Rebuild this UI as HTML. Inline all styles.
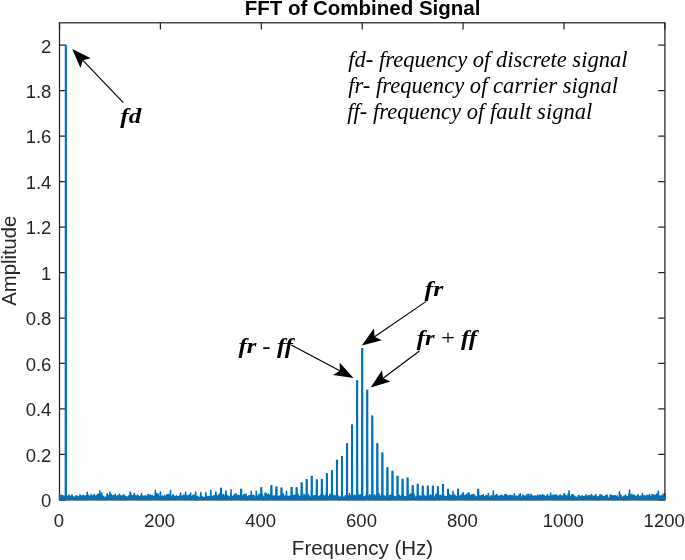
<!DOCTYPE html>
<html><head><meta charset="utf-8"><title>FFT of Combined Signal</title>
<style>
html,body{margin:0;padding:0;background:#fff;}
body{width:685px;height:560px;overflow:hidden;}
svg{display:block;}
.t{font-family:"Liberation Sans",Arial,Helvetica,sans-serif;fill:#262626;}
.s{font-family:"Liberation Serif","Times New Roman",Times,serif;fill:#000;}
</style></head><body>
<svg width="685" height="560" viewBox="0 0 685 560">
<rect width="685" height="560" fill="#fff"/>
<g stroke="#262626" stroke-width="1.25" fill="none">
<rect x="59.5" y="22.8" width="605.4" height="477.07"/>
<path d="M59.50 499.87v-6.6M59.50 22.8v6.6"/>
<path d="M160.40 499.87v-6.6M160.40 22.8v6.6"/>
<path d="M261.30 499.87v-6.6M261.30 22.8v6.6"/>
<path d="M362.20 499.87v-6.6M362.20 22.8v6.6"/>
<path d="M463.10 499.87v-6.6M463.10 22.8v6.6"/>
<path d="M564.00 499.87v-6.6M564.00 22.8v6.6"/>
<path d="M664.90 499.87v-6.6M664.90 22.8v6.6"/>
<path d="M59.5 499.87h6.6M664.9 499.87h-6.6"/>
<path d="M59.5 454.40h6.6M664.9 454.40h-6.6"/>
<path d="M59.5 408.94h6.6M664.9 408.94h-6.6"/>
<path d="M59.5 363.47h6.6M664.9 363.47h-6.6"/>
<path d="M59.5 318.00h6.6M664.9 318.00h-6.6"/>
<path d="M59.5 272.53h6.6M664.9 272.53h-6.6"/>
<path d="M59.5 227.07h6.6M664.9 227.07h-6.6"/>
<path d="M59.5 181.60h6.6M664.9 181.60h-6.6"/>
<path d="M59.5 136.13h6.6M664.9 136.13h-6.6"/>
<path d="M59.5 90.67h6.6M664.9 90.67h-6.6"/>
<path d="M59.5 45.20h6.6M664.9 45.20h-6.6"/>
</g>
<polyline fill="none" stroke="#0072BD" stroke-width="1.5" stroke-linejoin="round" points="59.50,493.05 59.75,496.22 60.00,499.24 60.26,495.80 60.51,498.80 60.76,495.75 61.01,498.93 61.27,495.59 61.52,499.11 61.77,495.55 62.02,499.16 62.27,495.67 62.53,499.10 62.78,495.60 63.03,499.37 63.28,496.11 63.54,498.75 63.79,496.86 64.04,499.46 64.29,496.48 64.55,499.09 64.80,497.29 65.05,498.83 65.30,495.89 65.55,498.98 65.81,45.20 66.06,499.31 66.31,495.37 66.56,499.42 66.82,497.80 67.07,499.26 67.32,497.84 67.57,499.00 67.82,496.25 68.08,499.34 68.33,496.49 68.58,499.60 68.83,495.17 69.09,499.64 69.34,495.27 69.59,498.76 69.84,497.45 70.09,499.27 70.35,496.45 70.60,498.74 70.85,496.49 71.10,499.37 71.36,496.59 71.61,498.92 71.86,495.05 72.11,499.22 72.36,495.82 72.62,499.37 72.87,496.48 73.12,499.18 73.37,496.97 73.63,498.92 73.88,498.07 74.13,499.53 74.38,497.26 74.63,499.08 74.89,497.26 75.14,499.36 75.39,498.38 75.64,499.62 75.90,495.83 76.15,499.31 76.40,496.92 76.65,499.20 76.91,496.10 77.16,499.52 77.41,496.20 77.66,499.42 77.91,497.33 78.17,499.42 78.42,496.83 78.67,499.47 78.92,497.24 79.18,498.83 79.43,498.26 79.68,498.92 79.93,494.79 80.18,498.87 80.44,497.08 80.69,499.39 80.94,495.79 81.19,498.78 81.45,496.69 81.70,498.97 81.95,496.96 82.20,499.49 82.45,497.46 82.71,499.24 82.96,495.36 83.21,498.86 83.46,495.79 83.72,498.75 83.97,496.72 84.22,499.59 84.47,496.02 84.72,499.33 84.98,498.51 85.23,499.62 85.48,497.12 85.73,499.39 85.99,495.71 86.24,499.63 86.49,495.79 86.74,498.89 87.00,498.51 87.25,492.14 87.50,496.69 87.75,498.87 88.00,494.90 88.26,498.76 88.51,496.42 88.76,499.01 89.01,495.65 89.27,498.74 89.52,497.02 89.77,498.97 90.02,496.86 90.27,499.03 90.53,497.78 90.78,499.33 91.03,494.59 91.28,499.27 91.54,496.34 91.79,499.06 92.04,498.51 92.29,499.01 92.54,498.17 92.80,499.26 93.05,495.33 93.30,499.30 93.55,496.28 93.81,499.50 94.06,497.89 94.31,494.53 94.56,498.51 94.81,499.09 95.07,497.47 95.32,499.06 95.57,497.29 95.82,499.32 96.08,495.87 96.33,499.22 96.58,498.21 96.83,499.37 97.09,495.07 97.34,499.37 97.59,495.92 97.84,499.59 98.09,493.93 98.35,498.76 98.60,495.31 98.85,499.24 99.10,495.54 99.36,499.27 99.61,496.18 99.86,490.78 100.11,495.51 100.36,498.76 100.62,495.23 100.87,499.58 101.12,496.53 101.37,499.51 101.63,493.12 101.88,499.29 102.13,496.08 102.38,498.88 102.63,495.89 102.89,499.60 103.14,496.41 103.39,499.48 103.64,497.00 103.90,499.08 104.15,497.07 104.40,499.36 104.65,498.29 104.91,499.58 105.16,498.08 105.41,498.92 105.66,498.51 105.91,499.02 106.17,496.76 106.42,499.59 106.67,495.74 106.92,498.91 107.18,493.86 107.43,498.75 107.68,494.83 107.93,498.98 108.18,496.48 108.44,499.04 108.69,496.12 108.94,498.77 109.19,496.19 109.45,498.98 109.70,497.08 109.95,492.14 110.20,494.53 110.45,498.79 110.71,494.79 110.96,498.81 111.21,496.73 111.46,494.86 111.72,496.00 111.97,498.99 112.22,496.36 112.47,498.88 112.72,496.03 112.98,499.02 113.23,496.66 113.48,499.49 113.73,495.61 113.99,498.94 114.24,496.54 114.49,498.83 114.74,497.24 115.00,499.57 115.25,494.26 115.50,498.93 115.75,496.82 116.00,498.86 116.26,497.49 116.51,499.44 116.76,498.46 117.01,499.45 117.27,495.87 117.52,498.74 117.77,496.08 118.02,499.33 118.27,496.57 118.53,499.13 118.78,497.17 119.03,499.58 119.28,494.29 119.54,499.47 119.79,495.71 120.04,499.30 120.29,497.15 120.54,498.80 120.80,495.58 121.05,498.80 121.30,498.51 121.55,499.36 121.81,496.53 122.06,499.32 122.31,496.25 122.56,499.28 122.81,496.76 123.07,499.33 123.32,495.03 123.57,498.80 123.82,494.76 124.08,499.62 124.33,496.02 124.58,499.07 124.83,496.18 125.08,499.34 125.34,496.75 125.59,499.57 125.84,496.36 126.09,499.58 126.35,498.09 126.60,499.21 126.85,496.88 127.10,498.87 127.36,497.62 127.61,499.48 127.86,497.57 128.11,499.25 128.36,496.80 128.62,499.47 128.87,495.64 129.12,498.81 129.37,497.84 129.63,499.12 129.88,496.47 130.13,491.91 130.38,494.95 130.63,499.29 130.89,494.07 131.14,499.35 131.39,497.08 131.64,498.74 131.90,496.23 132.15,499.23 132.40,496.72 132.65,498.90 132.90,495.79 133.16,499.48 133.41,495.56 133.66,498.84 133.91,495.92 134.17,499.23 134.42,493.38 134.67,499.21 134.92,495.52 135.18,499.40 135.43,496.61 135.68,499.29 135.93,496.00 136.18,498.78 136.44,496.27 136.69,499.24 136.94,495.89 137.19,498.76 137.45,495.03 137.70,499.07 137.95,495.21 138.20,498.75 138.45,496.54 138.71,499.19 138.96,496.71 139.21,498.76 139.46,497.88 139.72,499.28 139.97,496.48 140.22,498.74 140.47,496.03 140.72,499.55 140.98,496.27 141.23,499.33 141.48,493.42 141.73,499.43 141.99,495.51 142.24,499.43 142.49,495.91 142.74,498.91 142.99,496.52 143.25,499.25 143.50,496.37 143.75,499.39 144.00,497.70 144.26,499.38 144.51,496.48 144.76,499.18 145.01,495.81 145.26,498.97 145.52,496.07 145.77,499.41 146.02,496.31 146.27,498.83 146.53,496.67 146.78,499.55 147.03,496.67 147.28,499.25 147.54,495.68 147.79,499.33 148.04,494.62 148.29,499.53 148.54,495.46 148.80,498.97 149.05,494.70 149.30,499.36 149.55,496.20 149.81,498.99 150.06,495.56 150.31,498.93 150.56,495.13 150.81,499.16 151.07,495.79 151.32,499.24 151.57,496.59 151.82,499.22 152.08,495.34 152.33,498.91 152.58,496.88 152.83,499.15 153.08,497.18 153.34,499.07 153.59,496.21 153.84,498.75 154.09,496.37 154.35,499.19 154.60,496.16 154.85,498.75 155.10,496.98 155.35,490.32 155.61,496.66 155.86,499.06 156.11,494.79 156.36,498.81 156.62,493.47 156.87,499.30 157.12,495.65 157.37,499.13 157.63,495.95 157.88,499.24 158.13,493.89 158.38,498.88 158.63,496.59 158.89,498.82 159.14,496.95 159.39,499.19 159.64,497.18 159.90,499.63 160.15,497.34 160.40,491.91 160.65,496.97 160.90,498.94 161.16,495.98 161.41,498.96 161.66,496.61 161.91,499.62 162.17,496.75 162.42,498.87 162.67,496.11 162.92,499.35 163.17,496.88 163.43,498.84 163.68,497.10 163.93,499.41 164.18,498.51 164.44,499.55 164.69,495.36 164.94,498.88 165.19,496.96 165.44,499.18 165.70,497.08 165.95,499.58 166.20,496.21 166.45,499.31 166.71,495.10 166.96,499.01 167.21,494.61 167.46,499.42 167.72,495.07 167.97,499.44 168.22,496.38 168.47,499.39 168.72,494.48 168.98,499.59 169.23,495.73 169.48,498.83 169.73,497.24 169.99,499.11 170.24,497.62 170.49,490.32 170.74,496.53 170.99,499.21 171.25,497.18 171.50,498.97 171.75,496.96 172.00,499.01 172.26,496.67 172.51,498.93 172.76,495.09 173.01,499.02 173.26,494.98 173.52,498.77 173.77,496.71 174.02,498.85 174.27,496.22 174.53,498.96 174.78,497.56 175.03,499.22 175.28,496.84 175.53,499.58 175.79,496.95 176.04,498.74 176.29,495.84 176.54,499.29 176.80,497.99 177.05,499.09 177.30,496.44 177.55,498.90 177.81,496.98 178.06,499.09 178.31,496.66 178.56,499.46 178.81,496.84 179.07,499.35 179.32,496.40 179.57,498.80 179.82,495.62 180.08,498.91 180.33,496.21 180.58,493.05 180.83,497.33 181.08,498.81 181.34,496.69 181.59,499.19 181.84,498.03 182.09,499.61 182.35,496.36 182.60,498.83 182.85,495.75 183.10,499.05 183.35,495.23 183.61,499.20 183.86,495.09 184.11,499.18 184.36,496.43 184.62,499.44 184.87,495.34 185.12,499.28 185.37,498.00 185.62,492.37 185.88,497.94 186.13,499.01 186.38,495.69 186.63,499.13 186.89,496.05 187.14,499.31 187.39,496.16 187.64,498.94 187.90,495.68 188.15,499.30 188.40,495.74 188.65,499.31 188.90,496.33 189.16,498.97 189.41,495.09 189.66,499.13 189.91,495.62 190.17,498.91 190.42,496.99 190.67,493.05 190.92,497.14 191.17,499.49 191.43,496.62 191.68,499.64 191.93,496.93 192.18,499.09 192.44,496.40 192.69,499.41 192.94,495.24 193.19,499.14 193.44,496.59 193.70,498.74 193.95,495.85 194.20,499.36 194.45,495.35 194.71,498.93 194.96,497.39 195.21,499.54 195.46,497.27 195.71,491.91 195.97,498.47 196.22,499.47 196.47,497.10 196.72,498.76 196.98,496.82 197.23,499.63 197.48,496.17 197.73,499.48 197.99,497.48 198.24,499.14 198.49,497.28 198.74,498.77 198.99,498.51 199.25,499.61 199.50,498.51 199.75,499.34 200.00,497.24 200.26,499.26 200.51,495.98 200.76,492.60 201.01,497.38 201.26,499.24 201.52,496.79 201.77,498.84 202.02,496.45 202.27,498.84 202.53,496.95 202.78,499.62 203.03,498.51 203.28,499.46 203.53,497.59 203.79,499.11 204.04,498.25 204.29,498.91 204.54,498.29 204.80,499.27 205.05,497.03 205.30,499.22 205.55,497.04 205.80,492.60 206.06,496.15 206.31,499.07 206.56,495.94 206.81,498.94 207.07,497.67 207.32,499.47 207.57,497.39 207.82,498.83 208.08,496.84 208.33,499.12 208.58,496.56 208.83,499.59 209.08,496.44 209.34,498.78 209.59,496.69 209.84,499.35 210.09,497.49 210.35,498.83 210.60,497.65 210.85,490.32 211.10,496.32 211.35,499.24 211.61,496.28 211.86,499.36 212.11,498.14 212.36,498.80 212.62,497.05 212.87,498.98 213.12,496.54 213.37,498.99 213.62,495.65 213.88,499.42 214.13,496.29 214.38,499.45 214.63,496.81 214.89,498.96 215.14,495.47 215.39,499.10 215.64,494.83 215.89,491.91 216.15,495.90 216.40,498.86 216.65,495.10 216.90,499.58 217.16,497.48 217.41,499.23 217.66,497.14 217.91,499.55 218.17,496.06 218.42,498.85 218.67,496.09 218.92,499.25 219.17,494.12 219.43,499.13 219.68,496.18 219.93,498.99 220.18,494.88 220.44,499.59 220.69,495.43 220.94,488.50 221.19,497.24 221.44,499.60 221.70,496.04 221.95,498.85 222.20,496.35 222.45,499.62 222.71,494.75 222.96,498.94 223.21,495.12 223.46,499.15 223.71,494.52 223.97,499.36 224.22,498.51 224.47,499.19 224.72,497.69 224.98,499.40 225.23,496.23 225.48,498.93 225.73,494.77 225.98,490.78 226.24,495.08 226.49,499.62 226.74,495.13 226.99,499.05 227.25,497.92 227.50,498.83 227.75,496.36 228.00,498.97 228.26,496.14 228.51,499.28 228.76,497.04 229.01,498.78 229.26,497.16 229.52,498.84 229.77,498.07 230.02,499.45 230.27,496.78 230.53,498.82 230.78,496.20 231.03,489.64 231.28,496.67 231.53,499.46 231.79,497.92 232.04,499.43 232.29,496.43 232.54,499.00 232.80,497.41 233.05,499.34 233.30,497.32 233.55,499.12 233.80,495.41 234.06,499.15 234.31,494.47 234.56,499.29 234.81,496.22 235.07,499.03 235.32,495.68 235.57,498.83 235.82,497.88 236.07,493.50 236.33,496.36 236.58,499.17 236.83,496.69 237.08,498.93 237.34,495.53 237.59,499.48 237.84,495.82 238.09,498.88 238.35,495.49 238.60,499.36 238.85,495.15 239.10,498.89 239.35,497.47 239.61,499.42 239.86,496.38 240.11,498.85 240.36,495.68 240.62,498.84 240.87,495.59 241.12,489.41 241.37,497.84 241.62,499.58 241.88,497.93 242.13,498.81 242.38,496.34 242.63,499.12 242.89,496.52 243.14,499.49 243.39,495.09 243.64,498.99 243.89,496.64 244.15,499.31 244.40,494.26 244.65,498.89 244.90,495.60 245.16,498.94 245.41,497.05 245.66,499.36 245.91,495.82 246.16,494.19 246.42,497.43 246.67,499.44 246.92,496.79 247.17,498.93 247.43,497.67 247.68,499.46 247.93,496.70 248.18,498.75 248.44,496.78 248.69,499.30 248.94,495.75 249.19,499.19 249.44,495.87 249.70,499.17 249.95,497.10 250.20,499.45 250.45,496.27 250.71,498.94 250.96,495.13 251.21,491.23 251.46,497.23 251.71,498.89 251.97,495.25 252.22,499.17 252.47,496.44 252.72,498.92 252.98,497.16 253.23,499.60 253.48,495.34 253.73,499.27 253.98,495.60 254.24,499.18 254.49,497.48 254.74,498.93 254.99,497.20 255.25,499.53 255.50,498.11 255.75,499.20 256.00,498.51 256.25,491.23 256.51,494.90 256.76,498.86 257.01,496.11 257.26,499.62 257.52,497.40 257.77,498.89 258.02,497.65 258.27,498.93 258.53,495.76 258.78,499.60 259.03,494.35 259.28,499.51 259.53,495.14 259.79,498.90 260.04,496.40 260.29,499.37 260.54,495.75 260.80,499.21 261.05,496.03 261.30,488.05 261.55,496.91 261.80,499.31 262.06,496.58 262.31,498.78 262.56,494.98 262.81,499.39 263.07,496.40 263.32,499.29 263.57,497.34 263.82,499.63 264.07,498.08 264.33,498.93 264.58,498.22 264.83,499.25 265.08,493.11 265.34,499.59 265.59,495.68 265.84,499.39 266.09,496.47 266.34,493.50 266.60,494.35 266.85,499.55 267.10,494.91 267.35,498.95 267.61,496.71 267.86,499.35 268.11,496.22 268.36,499.52 268.62,493.94 268.87,499.52 269.12,496.43 269.37,499.47 269.62,495.51 269.88,499.06 270.13,496.48 270.38,499.21 270.63,497.06 270.89,499.19 271.14,497.53 271.39,485.78 271.64,496.71 271.89,499.24 272.15,497.17 272.40,499.51 272.65,496.48 272.90,498.74 273.16,496.18 273.41,499.57 273.66,495.82 273.91,498.78 274.16,496.16 274.42,499.16 274.67,496.96 274.92,499.62 275.17,495.97 275.43,498.97 275.68,494.58 275.93,499.32 276.18,495.00 276.43,487.14 276.69,496.93 276.94,499.49 277.19,497.26 277.44,499.39 277.70,497.41 277.95,498.81 278.20,496.53 278.45,499.51 278.71,496.47 278.96,499.55 279.21,496.10 279.46,499.52 279.71,496.48 279.97,499.08 280.22,496.11 280.47,498.80 280.72,495.92 280.98,499.49 281.23,496.26 281.48,488.28 281.73,497.43 281.98,499.24 282.24,496.73 282.49,499.64 282.74,494.83 282.99,499.20 283.25,493.85 283.50,499.08 283.75,496.98 284.00,498.81 284.25,495.95 284.51,498.80 284.76,497.20 285.01,499.08 285.26,496.11 285.52,498.94 285.77,497.32 286.02,498.97 286.27,497.56 286.52,491.23 286.78,496.28 287.03,499.55 287.28,497.02 287.53,499.46 287.79,496.60 288.04,498.85 288.29,496.23 288.54,498.76 288.80,497.52 289.05,499.58 289.30,497.36 289.55,499.08 289.80,496.33 290.06,499.54 290.31,497.81 290.56,499.48 290.81,496.07 291.07,499.42 291.32,495.95 291.57,487.59 291.82,496.28 292.07,499.50 292.33,497.31 292.58,499.43 292.83,495.79 293.08,499.58 293.34,497.11 293.59,499.03 293.84,495.45 294.09,499.52 294.34,495.14 294.60,499.18 294.85,495.53 295.10,498.90 295.35,495.83 295.61,499.36 295.86,496.92 296.11,499.34 296.36,496.68 296.62,488.05 296.87,494.97 297.12,499.39 297.37,495.28 297.62,498.87 297.88,495.74 298.13,499.64 298.38,494.66 298.63,498.84 298.89,496.71 299.14,499.61 299.39,496.48 299.64,499.38 299.89,498.51 300.15,499.27 300.40,497.14 300.65,499.18 300.90,495.91 301.16,499.42 301.41,495.87 301.66,483.12 301.91,494.99 302.16,499.14 302.42,496.69 302.67,499.62 302.92,497.41 303.17,499.15 303.43,497.06 303.68,499.64 303.93,494.19 304.18,499.63 304.43,495.14 304.69,498.94 304.94,496.82 305.19,499.11 305.44,495.81 305.70,499.52 305.95,495.42 306.20,499.42 306.45,496.57 306.70,479.64 306.96,497.03 307.21,498.95 307.46,497.10 307.71,498.79 307.97,495.37 308.22,499.39 308.47,494.83 308.72,499.03 308.98,496.12 309.23,499.41 309.48,496.26 309.73,499.04 309.98,497.49 310.24,498.78 310.49,497.66 310.74,499.01 310.99,497.23 311.25,499.40 311.50,497.22 311.75,476.45 312.00,496.17 312.25,499.48 312.51,496.49 312.76,498.77 313.01,495.75 313.26,499.24 313.52,496.26 313.77,499.26 314.02,496.34 314.27,499.39 314.52,495.85 314.78,499.16 315.03,497.61 315.28,499.19 315.53,495.52 315.79,498.85 316.04,495.60 316.29,498.95 316.54,496.45 316.79,480.09 317.05,495.70 317.30,499.15 317.55,496.69 317.80,498.92 318.06,496.59 318.31,499.05 318.56,496.48 318.81,499.62 319.07,497.06 319.32,499.45 319.57,496.55 319.82,499.32 320.07,495.85 320.33,498.93 320.58,496.92 320.83,498.97 321.08,494.71 321.34,499.48 321.59,495.20 321.84,479.64 322.09,496.30 322.34,498.77 322.60,495.92 322.85,499.24 323.10,496.24 323.35,499.54 323.61,495.29 323.86,499.05 324.11,496.73 324.36,499.51 324.61,498.24 324.87,499.50 325.12,495.89 325.37,498.81 325.62,497.53 325.88,499.57 326.13,494.75 326.38,499.25 326.63,495.17 326.88,473.95 327.14,497.78 327.39,499.42 327.64,497.51 327.89,498.80 328.15,496.76 328.40,499.24 328.65,496.48 328.90,498.93 329.16,495.94 329.41,499.36 329.66,496.50 329.91,494.15 330.16,496.51 330.42,499.34 330.67,496.06 330.92,498.80 331.17,495.42 331.43,499.48 331.68,495.58 331.93,471.00 332.18,496.26 332.43,499.15 332.69,495.83 332.94,499.49 333.19,495.77 333.44,499.52 333.70,495.26 333.95,498.75 334.20,496.09 334.45,498.91 334.70,496.32 334.96,498.77 335.21,496.26 335.46,499.17 335.71,496.52 335.97,499.01 336.22,495.17 336.47,499.26 336.72,495.65 336.97,460.31 337.23,497.48 337.48,499.18 337.73,495.51 337.98,499.56 338.24,496.11 338.49,499.45 338.74,497.67 338.99,499.44 339.25,497.20 339.50,498.97 339.75,497.03 340.00,499.49 340.25,498.51 340.51,499.43 340.76,498.51 341.01,499.17 341.26,496.31 341.52,499.29 341.77,496.42 342.02,456.68 342.27,497.11 342.52,498.90 342.78,496.69 343.03,498.82 343.28,498.44 343.53,499.52 343.79,497.20 344.04,498.99 344.29,497.55 344.54,499.01 344.79,497.40 345.05,498.79 345.30,495.65 345.55,498.94 345.80,496.51 346.06,499.18 346.31,495.69 346.56,498.94 346.81,495.61 347.06,443.83 347.32,496.40 347.57,499.59 347.82,496.57 348.07,498.81 348.33,495.96 348.58,499.61 348.83,497.34 349.08,498.97 349.34,498.44 349.59,493.49 349.84,498.13 350.09,499.05 350.34,498.09 350.60,499.39 350.85,498.01 351.10,498.91 351.35,495.45 351.61,499.31 351.86,495.43 352.11,425.08 352.36,496.70 352.61,499.57 352.87,495.67 353.12,499.41 353.37,495.78 353.62,499.47 353.88,496.16 354.13,498.95 354.38,495.69 354.63,499.42 354.88,495.09 355.14,499.33 355.39,497.83 355.64,499.08 355.89,497.15 356.15,498.92 356.40,496.00 356.65,499.61 356.90,496.69 357.15,380.97 357.41,495.00 357.66,499.57 357.91,494.27 358.16,499.60 358.42,495.94 358.67,499.48 358.92,495.28 359.17,499.35 359.43,496.54 359.68,498.79 359.93,496.20 360.18,499.26 360.43,494.74 360.69,499.45 360.94,495.97 361.19,499.60 361.44,496.62 361.70,499.11 361.95,495.64 362.20,348.69 362.45,496.07 362.70,499.64 362.96,496.40 363.21,499.40 363.46,496.69 363.71,498.98 363.97,496.97 364.22,499.39 364.47,496.93 364.72,499.50 364.97,498.01 365.23,499.34 365.48,496.36 365.73,499.09 365.98,495.48 366.24,498.78 366.49,495.59 366.74,498.93 366.99,495.88 367.24,390.52 367.50,495.46 367.75,499.08 368.00,496.25 368.25,499.47 368.51,497.27 368.76,499.00 369.01,496.78 369.26,499.53 369.52,494.85 369.77,499.59 370.02,494.92 370.27,499.11 370.52,496.13 370.78,498.79 371.03,497.28 371.28,499.44 371.53,497.60 371.79,498.92 372.04,498.05 372.29,416.21 372.54,496.73 372.79,499.24 373.05,496.95 373.30,498.95 373.55,497.86 373.80,498.81 374.06,497.83 374.31,498.97 374.56,494.66 374.81,499.18 375.06,495.86 375.32,499.63 375.57,497.10 375.82,498.92 376.07,496.68 376.33,498.96 376.58,496.38 376.83,499.50 377.08,497.49 377.33,443.83 377.59,496.28 377.84,499.51 378.09,496.99 378.34,499.48 378.60,493.60 378.85,499.08 379.10,494.47 379.35,498.88 379.61,495.70 379.86,499.61 380.11,497.95 380.36,498.88 380.61,497.24 380.87,499.43 381.12,498.14 381.37,499.56 381.62,494.55 381.88,499.24 382.13,497.42 382.38,453.27 382.63,495.60 382.88,499.52 383.14,495.40 383.39,499.58 383.64,497.56 383.89,498.88 384.15,495.64 384.40,498.91 384.65,496.93 384.90,499.14 385.15,497.28 385.41,498.80 385.66,497.08 385.91,498.99 386.16,496.36 386.42,499.04 386.67,495.59 386.92,499.42 387.17,495.66 387.42,467.82 387.68,496.08 387.93,499.47 388.18,497.55 388.43,499.62 388.69,497.94 388.94,499.46 389.19,498.17 389.44,498.99 389.70,495.39 389.95,499.09 390.20,495.46 390.45,499.58 390.70,495.67 390.96,499.08 391.21,495.35 391.46,498.78 391.71,496.99 391.97,499.16 392.22,495.89 392.47,471.45 392.72,496.72 392.97,499.21 393.23,496.99 393.48,499.24 393.73,496.58 393.98,499.31 394.24,496.58 394.49,498.91 394.74,496.45 394.99,499.16 395.24,497.06 395.50,498.79 395.75,498.08 396.00,499.55 396.25,497.07 396.51,499.17 396.76,496.95 397.01,498.82 397.26,496.58 397.51,476.45 397.77,497.20 398.02,499.62 398.27,497.79 398.52,499.09 398.78,495.41 399.03,499.48 399.28,495.18 399.53,499.22 399.79,497.71 400.04,498.80 400.29,497.76 400.54,499.45 400.79,496.29 401.05,499.20 401.30,496.36 401.55,498.89 401.80,496.90 402.06,499.24 402.31,495.81 402.56,479.41 402.81,494.12 403.06,499.27 403.32,495.01 403.57,499.35 403.82,497.78 404.07,499.44 404.33,496.66 404.58,499.35 404.83,498.42 405.08,498.96 405.33,496.80 405.59,498.92 405.84,496.79 406.09,499.56 406.34,497.95 406.60,499.40 406.85,498.04 407.10,499.56 407.35,497.90 407.60,478.14 407.86,496.93 408.11,499.00 408.36,496.35 408.61,499.26 408.87,495.34 409.12,499.52 409.37,497.09 409.62,499.35 409.88,496.63 410.13,499.20 410.38,493.81 410.63,499.34 410.88,494.07 411.14,498.81 411.39,494.78 411.64,499.35 411.89,497.08 412.15,499.25 412.40,496.59 412.65,485.84 412.90,493.89 413.15,499.22 413.41,493.57 413.66,498.91 413.91,493.63 414.16,499.33 414.42,495.73 414.67,499.18 414.92,496.75 415.17,499.61 415.42,497.67 415.68,498.87 415.93,498.51 416.18,498.80 416.43,496.88 416.69,498.92 416.94,496.23 417.19,498.78 417.44,496.32 417.69,484.41 417.95,497.07 418.20,498.77 418.45,495.23 418.70,499.46 418.96,498.51 419.21,499.37 419.46,498.01 419.71,499.10 419.97,496.24 420.22,499.63 420.47,495.79 420.72,499.47 420.97,497.53 421.23,498.91 421.48,496.77 421.73,499.40 421.98,497.99 422.24,499.44 422.49,497.39 422.74,486.34 422.99,495.18 423.24,499.14 423.50,495.76 423.75,498.81 424.00,495.22 424.25,499.09 424.51,495.95 424.76,499.41 425.01,496.79 425.26,499.19 425.51,497.66 425.77,499.20 426.02,496.13 426.27,499.21 426.52,496.42 426.78,499.46 427.03,498.51 427.28,499.44 427.53,497.51 427.78,486.34 428.04,496.41 428.29,499.62 428.54,496.63 428.79,499.37 429.05,495.87 429.30,499.04 429.55,495.90 429.80,499.52 430.06,496.17 430.31,499.63 430.56,494.72 430.81,499.45 431.06,495.71 431.32,499.24 431.57,496.62 431.82,498.87 432.07,497.76 432.33,499.49 432.58,498.51 432.83,486.34 433.08,496.16 433.33,499.64 433.59,495.74 433.84,499.12 434.09,497.39 434.34,499.39 434.60,497.51 434.85,499.24 435.10,497.14 435.35,499.52 435.60,495.77 435.86,499.01 436.11,494.10 436.36,499.19 436.61,494.22 436.87,499.24 437.12,496.23 437.37,498.98 437.62,496.44 437.87,486.91 438.13,496.85 438.38,499.56 438.63,496.73 438.88,498.96 439.14,497.13 439.39,499.15 439.64,495.82 439.89,498.90 440.15,495.14 440.40,498.97 440.65,496.88 440.90,499.37 441.15,496.29 441.41,499.48 441.66,496.32 441.91,499.48 442.16,495.22 442.42,498.80 442.67,495.89 442.92,484.64 443.17,495.73 443.42,499.32 443.68,494.61 443.93,499.21 444.18,496.41 444.43,498.79 444.69,497.82 444.94,499.03 445.19,496.80 445.44,498.76 445.69,496.79 445.95,499.03 446.20,496.94 446.45,498.94 446.70,496.39 446.96,499.35 447.21,498.51 447.46,499.26 447.71,498.23 447.96,489.41 448.22,497.19 448.47,498.77 448.72,497.16 448.97,499.38 449.23,494.41 449.48,498.78 449.73,497.13 449.98,499.57 450.24,495.47 450.49,499.01 450.74,498.12 450.99,499.16 451.24,495.77 451.50,499.31 451.75,495.51 452.00,498.91 452.25,497.22 452.51,499.53 452.76,496.77 453.01,491.23 453.26,496.18 453.51,498.88 453.77,496.12 454.02,498.88 454.27,495.23 454.52,499.49 454.78,495.09 455.03,499.29 455.28,496.05 455.53,499.31 455.78,498.42 456.04,498.97 456.29,496.19 456.54,499.28 456.79,496.87 457.05,499.51 457.30,497.70 457.55,498.81 457.80,497.50 458.05,489.41 458.31,496.19 458.56,499.22 458.81,495.33 459.06,499.14 459.32,497.25 459.57,499.27 459.82,496.64 460.07,498.99 460.33,496.33 460.58,499.59 460.83,495.74 461.08,499.05 461.33,495.10 461.59,499.03 461.84,494.65 462.09,499.37 462.34,496.39 462.60,499.28 462.85,495.69 463.10,492.60 463.35,497.48 463.60,498.87 463.86,496.40 464.11,499.50 464.36,496.87 464.61,498.85 464.87,495.31 465.12,498.89 465.37,496.78 465.62,499.53 465.87,496.85 466.13,499.28 466.38,494.52 466.63,498.82 466.88,495.33 467.14,498.92 467.39,495.93 467.64,499.31 467.89,496.43 468.14,493.05 468.40,497.89 468.65,499.37 468.90,497.59 469.15,493.24 469.41,495.25 469.66,499.51 469.91,495.46 470.16,498.99 470.42,496.90 470.67,499.47 470.92,495.77 471.17,499.25 471.42,496.53 471.68,499.60 471.93,494.84 472.18,498.89 472.43,496.44 472.69,499.64 472.94,495.74 473.19,495.32 473.44,494.48 473.69,498.96 473.95,495.19 474.20,499.22 474.45,495.11 474.70,499.21 474.96,496.28 475.21,498.83 475.46,496.92 475.71,499.10 475.96,496.50 476.22,498.77 476.47,497.49 476.72,499.26 476.97,497.42 477.23,499.06 477.48,496.90 477.73,498.89 477.98,496.80 478.23,489.41 478.49,496.16 478.74,499.24 478.99,496.74 479.24,499.56 479.50,496.10 479.75,499.54 480.00,496.61 480.25,499.12 480.51,497.51 480.76,499.07 481.01,495.68 481.26,498.94 481.51,497.06 481.77,498.94 482.02,495.29 482.27,499.51 482.52,498.51 482.78,498.85 483.03,497.05 483.28,494.87 483.53,496.61 483.78,499.57 484.04,497.70 484.29,499.48 484.54,496.70 484.79,499.08 485.05,498.01 485.30,498.85 485.55,496.68 485.80,499.37 486.05,495.66 486.31,498.80 486.56,495.87 486.81,499.42 487.06,495.98 487.32,498.80 487.57,497.42 487.82,498.87 488.07,497.44 488.32,493.50 488.58,495.35 488.83,499.25 489.08,497.40 489.33,499.14 489.59,497.43 489.84,499.41 490.09,498.16 490.34,499.59 490.60,496.72 490.85,498.83 491.10,495.63 491.35,499.10 491.60,496.74 491.86,499.13 492.11,496.14 492.36,498.80 492.61,496.78 492.87,499.46 493.12,495.18 493.37,490.78 493.62,497.47 493.87,499.15 494.13,497.06 494.38,498.98 494.63,495.94 494.88,499.51 495.14,495.90 495.39,499.47 495.64,495.43 495.89,498.86 496.14,496.57 496.40,499.57 496.65,494.58 496.90,499.47 497.15,495.31 497.41,499.51 497.66,495.42 497.91,499.58 498.16,496.16 498.41,499.49 498.67,497.20 498.92,499.58 499.17,496.70 499.42,499.12 499.68,496.86 499.93,499.37 500.18,495.73 500.43,499.06 500.69,497.52 500.94,499.64 501.19,495.56 501.44,499.59 501.69,495.27 501.95,499.03 502.20,495.60 502.45,499.20 502.70,496.50 502.96,499.44 503.21,497.02 503.46,499.28 503.71,496.55 503.96,499.25 504.22,495.61 504.47,498.77 504.72,494.75 504.97,499.26 505.23,496.12 505.48,499.17 505.73,494.61 505.98,499.59 506.23,494.22 506.49,499.01 506.74,495.44 506.99,499.57 507.24,497.12 507.50,499.58 507.75,495.45 508.00,498.86 508.25,496.62 508.50,499.01 508.76,496.46 509.01,498.80 509.26,496.25 509.51,499.20 509.77,495.28 510.02,499.23 510.27,495.48 510.52,499.53 510.78,495.17 511.03,499.46 511.28,496.19 511.53,499.02 511.78,496.13 512.04,498.90 512.29,495.73 512.54,499.05 512.79,498.51 513.05,499.34 513.30,498.51 513.55,499.58 513.80,496.09 514.05,499.05 514.31,493.69 514.56,499.32 514.81,495.99 515.06,498.85 515.32,496.59 515.57,499.15 515.82,495.98 516.07,498.84 516.32,496.60 516.58,499.52 516.83,497.19 517.08,499.28 517.33,497.03 517.59,499.42 517.84,497.79 518.09,498.94 518.34,496.16 518.60,499.17 518.85,495.16 519.10,499.24 519.35,496.12 519.60,498.89 519.86,494.52 520.11,498.75 520.36,493.64 520.61,499.47 520.87,498.51 521.12,499.62 521.37,498.51 521.62,499.64 521.87,497.90 522.13,499.03 522.38,495.92 522.63,499.55 522.88,495.09 523.14,499.02 523.39,495.92 523.64,499.31 523.89,496.02 524.14,498.85 524.40,496.63 524.65,499.19 524.90,496.15 525.15,499.03 525.41,495.92 525.66,499.20 525.91,497.66 526.16,499.04 526.41,497.31 526.67,499.08 526.92,494.61 527.17,499.27 527.42,496.87 527.68,499.61 527.93,495.29 528.18,498.92 528.43,495.96 528.68,498.99 528.94,494.21 529.19,498.99 529.44,496.28 529.69,499.60 529.95,496.47 530.20,499.14 530.45,497.12 530.70,499.36 530.96,495.89 531.21,494.24 531.46,497.47 531.71,499.56 531.96,495.70 532.22,499.45 532.47,496.06 532.72,499.39 532.97,497.01 533.23,499.20 533.48,497.79 533.73,499.44 533.98,496.37 534.23,499.40 534.49,496.08 534.74,499.32 534.99,495.85 535.24,499.61 535.50,496.62 535.75,499.17 536.00,496.54 536.25,499.53 536.50,497.51 536.76,498.85 537.01,496.22 537.26,498.79 537.51,495.08 537.77,499.26 538.02,496.75 538.27,499.44 538.52,497.78 538.77,499.06 539.03,495.80 539.28,499.47 539.53,495.15 539.78,499.59 540.04,495.81 540.29,499.49 540.54,495.37 540.79,499.10 541.05,497.78 541.30,498.84 541.55,497.68 541.80,499.62 542.05,495.38 542.31,499.19 542.56,494.87 542.81,498.81 543.06,497.47 543.32,498.90 543.57,496.80 543.82,499.29 544.07,495.29 544.32,499.01 544.58,495.98 544.83,499.30 545.08,496.48 545.33,499.02 545.59,496.86 545.84,499.29 546.09,497.39 546.34,499.27 546.59,496.13 546.85,499.13 547.10,494.91 547.35,494.81 547.60,494.63 547.86,498.82 548.11,497.05 548.36,499.31 548.61,496.69 548.87,499.10 549.12,496.61 549.37,499.49 549.62,496.26 549.87,498.82 550.13,496.19 550.38,499.25 550.63,493.06 550.88,499.16 551.14,495.70 551.39,499.04 551.64,495.92 551.89,499.33 552.14,496.36 552.40,498.98 552.65,497.69 552.90,499.28 553.15,495.07 553.41,499.08 553.66,498.05 553.91,499.33 554.16,496.61 554.41,499.60 554.67,495.18 554.92,498.96 555.17,495.07 555.42,499.56 555.68,495.30 555.93,499.56 556.18,495.10 556.43,498.92 556.68,495.30 556.94,498.87 557.19,496.43 557.44,498.76 557.69,496.46 557.95,499.09 558.20,497.22 558.45,498.75 558.70,498.36 558.95,499.58 559.21,495.16 559.46,499.41 559.71,495.73 559.96,498.92 560.22,495.65 560.47,499.15 560.72,494.98 560.97,498.78 561.23,496.32 561.48,498.83 561.73,496.31 561.98,499.48 562.23,496.07 562.49,499.33 562.74,496.98 562.99,498.83 563.24,496.63 563.50,499.31 563.75,496.59 564.00,499.61 564.25,494.84 564.50,499.53 564.76,493.95 565.01,498.74 565.26,497.21 565.51,499.59 565.77,498.51 566.02,499.02 566.27,495.80 566.52,499.06 566.77,495.96 567.03,499.32 567.28,496.27 567.53,498.87 567.78,496.55 568.04,499.58 568.29,493.50 568.54,499.04 568.79,497.46 569.04,490.78 569.30,496.84 569.55,498.75 569.80,495.83 570.05,499.58 570.31,498.45 570.56,499.03 570.81,496.89 571.06,499.13 571.32,496.78 571.57,499.08 571.82,494.78 572.07,499.63 572.32,494.97 572.58,499.20 572.83,494.44 573.08,499.58 573.33,495.07 573.59,498.81 573.84,495.88 574.09,499.55 574.34,496.53 574.59,498.92 574.85,496.42 575.10,499.37 575.35,498.36 575.60,499.05 575.86,497.60 576.11,499.59 576.36,497.39 576.61,499.38 576.86,497.24 577.12,499.11 577.37,498.25 577.62,498.75 577.87,498.51 578.13,498.97 578.38,495.46 578.63,499.53 578.88,495.21 579.13,499.26 579.39,496.05 579.64,499.31 579.89,496.66 580.14,498.96 580.40,497.67 580.65,499.37 580.90,496.85 581.15,499.17 581.41,498.51 581.66,499.30 581.91,495.63 582.16,499.16 582.41,497.63 582.67,499.38 582.92,496.44 583.17,499.57 583.42,496.75 583.68,498.96 583.93,496.82 584.18,499.29 584.43,497.13 584.68,499.40 584.94,496.65 585.19,499.55 585.44,495.68 585.69,499.37 585.95,494.71 586.20,498.82 586.45,496.41 586.70,499.12 586.95,497.77 587.21,499.36 587.46,496.22 587.71,499.13 587.96,495.68 588.22,499.35 588.47,496.86 588.72,499.48 588.97,495.93 589.22,498.76 589.48,495.58 589.73,499.14 589.98,496.09 590.23,499.43 590.49,496.13 590.74,499.57 590.99,495.74 591.24,499.01 591.50,494.40 591.75,499.30 592.00,496.89 592.25,499.08 592.50,496.11 592.76,499.35 593.01,496.85 593.26,498.74 593.51,496.78 593.77,499.57 594.02,496.13 594.27,498.77 594.52,496.34 594.77,498.76 595.03,496.69 595.28,499.45 595.53,496.34 595.78,494.61 596.04,497.06 596.29,498.78 596.54,496.43 596.79,499.46 597.04,496.89 597.30,499.37 597.55,497.88 597.80,499.41 598.05,497.33 598.31,499.51 598.56,496.48 598.81,498.92 599.06,496.51 599.31,499.57 599.57,497.70 599.82,499.30 600.07,494.80 600.32,499.21 600.58,496.09 600.83,499.44 601.08,494.94 601.33,499.22 601.59,495.98 601.84,498.86 602.09,495.45 602.34,499.21 602.59,497.73 602.85,498.85 603.10,497.07 603.35,499.22 603.60,496.57 603.86,499.14 604.11,497.52 604.36,498.85 604.61,496.70 604.86,498.76 605.12,496.68 605.37,498.86 605.62,495.61 605.87,499.03 606.13,497.23 606.38,498.85 606.63,495.76 606.88,499.36 607.13,495.12 607.39,499.38 607.64,496.67 607.89,498.87 608.14,497.80 608.40,499.50 608.65,498.45 608.90,499.05 609.15,498.35 609.40,499.23 609.66,497.89 609.91,499.32 610.16,495.48 610.41,494.71 610.67,496.26 610.92,498.79 611.17,495.61 611.42,498.98 611.68,496.21 611.93,498.81 612.18,496.66 612.43,499.55 612.68,495.69 612.94,499.57 613.19,495.77 613.44,498.75 613.69,495.95 613.95,499.00 614.20,497.70 614.45,499.64 614.70,495.70 614.95,499.38 615.21,495.48 615.46,499.15 615.71,496.52 615.96,499.01 616.22,497.21 616.47,499.05 616.72,496.40 616.97,499.59 617.22,495.81 617.48,499.05 617.73,497.27 617.98,499.03 618.23,497.44 618.49,498.89 618.74,497.15 618.99,499.19 619.24,498.47 619.49,491.69 619.75,495.62 620.00,499.15 620.25,496.14 620.50,499.22 620.76,494.95 621.01,498.91 621.26,495.70 621.51,499.12 621.77,497.63 622.02,498.81 622.27,498.26 622.52,499.47 622.77,497.17 623.03,499.28 623.28,496.89 623.53,499.63 623.78,496.15 624.04,499.51 624.29,496.53 624.54,499.62 624.79,496.51 625.04,499.56 625.30,494.92 625.55,499.26 625.80,498.14 626.05,499.37 626.31,497.04 626.56,499.56 626.81,496.27 627.06,499.40 627.31,496.49 627.57,499.37 627.82,497.90 628.07,499.45 628.32,497.66 628.58,499.34 628.83,493.48 629.08,498.73 629.33,494.63 629.58,490.09 629.84,495.83 630.09,498.90 630.34,495.52 630.59,498.78 630.85,496.52 631.10,499.18 631.35,495.05 631.60,499.24 631.86,494.37 632.11,498.98 632.36,495.69 632.61,499.23 632.86,495.66 633.12,499.03 633.37,495.28 633.62,499.29 633.87,496.10 634.13,499.21 634.38,495.35 634.63,498.76 634.88,496.39 635.13,499.19 635.39,497.03 635.64,499.13 635.89,496.15 636.14,498.75 636.40,496.56 636.65,498.92 636.90,496.23 637.15,499.07 637.40,495.67 637.66,499.23 637.91,494.80 638.16,499.30 638.41,495.07 638.67,499.42 638.92,497.74 639.17,499.38 639.42,497.24 639.67,498.99 639.93,496.86 640.18,499.28 640.43,496.71 640.68,499.49 640.94,496.06 641.19,499.59 641.44,496.26 641.69,499.18 641.95,495.37 642.20,499.01 642.45,493.53 642.70,499.16 642.95,496.62 643.21,498.77 643.46,496.09 643.71,499.07 643.96,496.87 644.22,499.12 644.47,497.46 644.72,499.52 644.97,495.38 645.22,499.51 645.48,497.58 645.73,499.29 645.98,497.24 646.23,499.28 646.49,497.06 646.74,499.18 646.99,495.35 647.24,499.15 647.49,495.40 647.75,499.43 648.00,496.05 648.25,498.89 648.50,497.03 648.76,499.22 649.01,495.86 649.26,498.79 649.51,494.43 649.76,498.87 650.02,495.77 650.27,499.42 650.52,496.60 650.77,498.77 651.03,496.95 651.28,499.59 651.53,498.43 651.78,499.36 652.04,494.41 652.29,499.30 652.54,494.65 652.79,498.93 653.04,495.75 653.30,498.85 653.55,495.30 653.80,499.26 654.05,495.21 654.31,499.07 654.56,496.36 654.81,499.47 655.06,496.50 655.31,499.44 655.57,495.31 655.82,499.35 656.07,496.33 656.32,499.42 656.58,493.88 656.83,499.06 657.08,497.29 657.33,499.53 657.58,496.67 657.84,499.28 658.09,495.94 658.34,491.23 658.59,496.32 658.85,499.53 659.10,497.79 659.35,499.38 659.60,496.20 659.85,499.04 660.11,497.71 660.36,499.57 660.61,496.94 660.86,499.38 661.12,495.52 661.37,499.11 661.62,496.03 661.87,498.80 662.13,496.47 662.38,499.00 662.63,496.88 662.88,499.29 663.13,493.98 663.39,499.58 663.64,495.50 663.89,498.80 664.14,496.46 664.40,499.25 664.65,496.47 664.90,499.41"/>
<path d="M362.20 499.87V348.01M357.15 499.87V380.29M367.24 499.87V389.84M352.11 499.87V424.39M372.29 499.87V415.53M347.06 499.87V443.15M377.33 499.87V443.15M342.02 499.87V455.99M382.38 499.87V452.58M336.97 499.87V459.63M387.42 499.87V467.13M331.93 499.87V470.32M392.47 499.87V470.77M326.88 499.87V473.27M397.51 499.87V475.77M321.84 499.87V478.96M402.56 499.87V478.73M316.79 499.87V479.41M407.60 499.87V477.45M311.75 499.87V475.77M412.65 499.87V485.16M306.70 499.87V478.96M417.69 499.87V483.73M301.66 499.87V482.43M422.74 499.87V485.66M296.62 499.87V487.37M427.78 499.87V485.66M291.57 499.87V486.91M432.83 499.87V485.66M437.87 499.87V486.23M281.48 499.87V487.59M442.92 499.87V483.96M276.43 499.87V486.46M447.96 499.87V488.73M271.39 499.87V485.09M458.05 499.87V488.73M261.30 499.87V487.37M478.23 499.87V488.73M241.12 499.87V488.73M220.94 499.87V487.82M65.81 499.87V45.20" fill="none" stroke="#0072BD" stroke-width="2.1" stroke-linecap="butt"/>
<g class="t" font-size="18.5">
<text x="58.8" y="526.8" text-anchor="middle">0</text>
<text x="159.7" y="526.8" text-anchor="middle">200</text>
<text x="260.6" y="526.8" text-anchor="middle">400</text>
<text x="361.5" y="526.8" text-anchor="middle">600</text>
<text x="462.4" y="526.8" text-anchor="middle">800</text>
<text x="563.3" y="526.8" text-anchor="middle">1000</text>
<text x="664.2" y="526.8" text-anchor="middle">1200</text>
<text x="51.4" y="507.2" text-anchor="end">0</text>
<text x="51.4" y="461.7" text-anchor="end">0.2</text>
<text x="51.4" y="416.2" text-anchor="end">0.4</text>
<text x="51.4" y="370.8" text-anchor="end">0.6</text>
<text x="51.4" y="325.3" text-anchor="end">0.8</text>
<text x="51.4" y="279.8" text-anchor="end">1</text>
<text x="51.4" y="234.4" text-anchor="end">1.2</text>
<text x="51.4" y="188.9" text-anchor="end">1.4</text>
<text x="51.4" y="143.4" text-anchor="end">1.6</text>
<text x="51.4" y="98.0" text-anchor="end">1.8</text>
<text x="51.4" y="52.5" text-anchor="end">2</text>
</g>
<text class="t" font-size="20.5" x="362.5" y="554.6" text-anchor="middle">Frequency (Hz)</text>
<text class="t" font-size="20.3" transform="translate(16.1 260.7) rotate(-90)" text-anchor="middle">Amplitude</text>
<text class="t" font-size="20.5" font-weight="bold" style="fill:#000" x="362.6" y="15.2" text-anchor="middle">FFT of Combined Signal</text>
<g class="s" font-size="22.6" font-style="italic">
<text x="348.2" y="66.6">fd- frequency of discrete signal</text>
<text x="348.2" y="92.5">fr- frequency of carrier signal</text>
<text x="347.2" y="118.5">ff- frequency of fault signal</text>
</g>
<g class="s" font-size="21" font-style="italic" font-weight="bold">
<text transform="translate(120.3 123.0) scale(1.2 1)">fd</text>
<text transform="translate(238.4 352.7) scale(1.18 1)">fr - ff</text>
<text transform="translate(424.6 296.3) scale(1.23 1)">fr</text>
<text transform="translate(416.8 345.4) scale(1.18 1)">fr <tspan font-weight="normal" font-style="normal">+</tspan> ff</text>
</g>
<path d="M123.3 102.7L82.9 60.3" stroke="#000" stroke-width="1.15" fill="none"/>
<path d="M72.2 49.1L90.8 58.3L82.9 60.3L80.5 68.1Z" fill="#000"/>
<path d="M291.3 344.9L339.8 370.7" stroke="#000" stroke-width="1.15" fill="none"/>
<path d="M353.5 378.0L333.0 375.1L339.8 370.7L339.6 362.6Z" fill="#000"/>
<path d="M426.2 301.4L374.6 336.7" stroke="#000" stroke-width="1.15" fill="none"/>
<path d="M361.8 345.5L373.9 328.6L374.6 336.7L381.9 340.3Z" fill="#000"/>
<path d="M419.4 351.0L383.1 378.3" stroke="#000" stroke-width="1.15" fill="none"/>
<path d="M370.7 387.6L382.0 370.2L383.1 378.3L390.6 381.6Z" fill="#000"/>
</svg>
</body></html>
